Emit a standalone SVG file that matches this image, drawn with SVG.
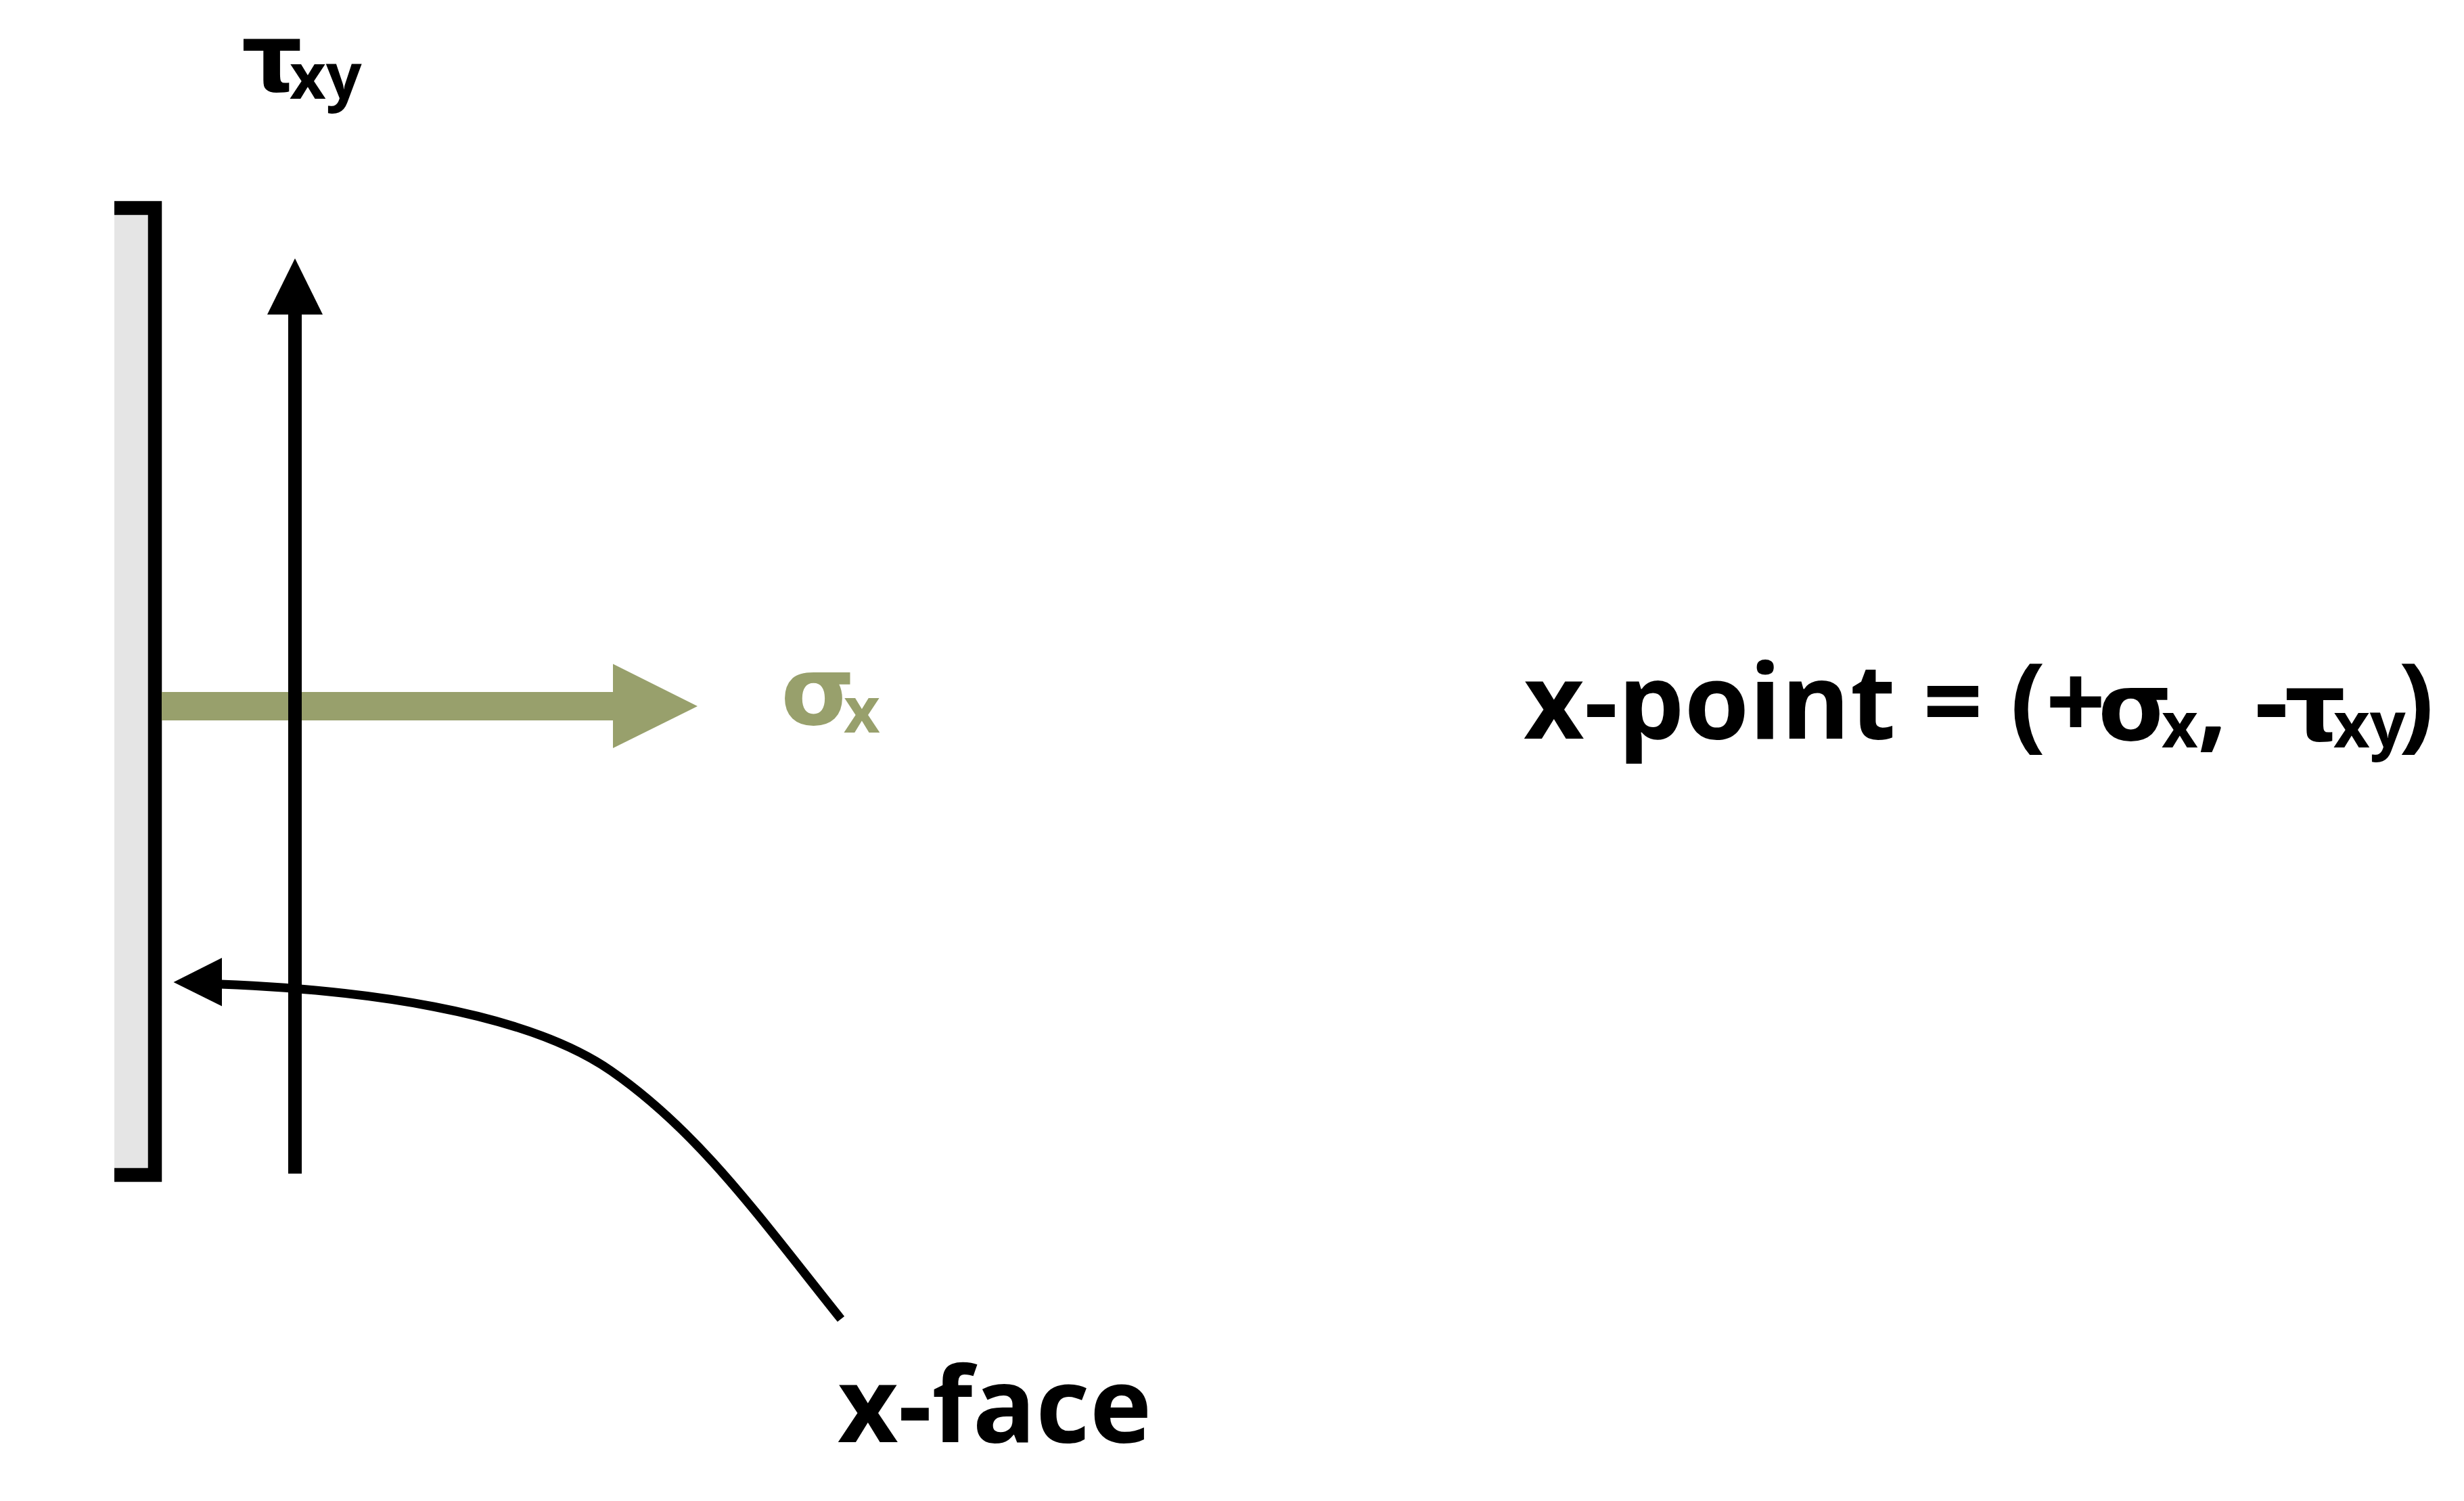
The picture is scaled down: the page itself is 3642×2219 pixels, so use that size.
<svg xmlns="http://www.w3.org/2000/svg" width="3642" height="2219" viewBox="0 0 3642 2219">
<style>
text{font-family:"Open Sans","Noto Sans","Liberation Sans",sans-serif;font-weight:700;fill:#000}
.big{font-size:155px}
.gr{font-size:141px;font-family:"DejaVu Sans","Open Sans",sans-serif}
.sub{font-size:93px}
.green{fill:#98a06c}
</style>
<rect width="3642" height="2219" fill="#ffffff"/>
<g id="face">
<rect x="169" y="317" width="50" height="1410" fill="#e5e5e5"/>
<path d="M169,307.5 H229 V1737 H169" fill="none" stroke="#000" stroke-width="20.5" stroke-linejoin="miter"/>
</g>
<g id="connectors">
<g id="sigma-arrow">
<rect x="239" y="1023" width="667" height="42" fill="#98a06c"/>
<polygon points="906,981.5 1031,1044 906,1106" fill="#98a06c"/>
</g>
<g id="tau-arrow">
<line x1="436" y1="1735" x2="436" y2="462" stroke="#000" stroke-width="20"/>
<polygon points="436,382 395,465 477,465" fill="#000"/>
</g>
<g id="face-pointer">
<path d="M1243,1950 C1123,1800 1033,1673 903,1583 C773,1493 528,1463 326,1455" fill="none" stroke="#000" stroke-width="13"/>
<polygon points="256.5,1452 328,1416 328,1487.5" fill="#000"/>
</g>
</g>
<g id="label-tau">
<text><tspan class="gr" x="357" y="134">τ</tspan><tspan class="sub" x="428" y="146">xy</tspan></text>
</g>
<g id="label-sigma">
<text class="green"><tspan class="gr green" x="1154" y="1071">σ</tspan><tspan class="sub green" x="1247" y="1083">x</tspan></text>
</g>
<g id="label-xpoint">
<text><tspan class="big" x="2252" y="1092">x-point = (+</tspan><tspan class="gr" x="3101" y="1094">σ</tspan><tspan class="sub" x="3195" y="1105">x</tspan><tspan class="big" x="3248" y="1092">, -</tspan><tspan class="gr" x="3377" y="1094">τ</tspan><tspan class="sub" x="3449" y="1105">xy</tspan><tspan class="big" x="3545" y="1092">)</tspan></text>
</g>
<g id="label-xface">
<text class="big" x="1238" y="2132">x-face</text>
</g>
</svg>
